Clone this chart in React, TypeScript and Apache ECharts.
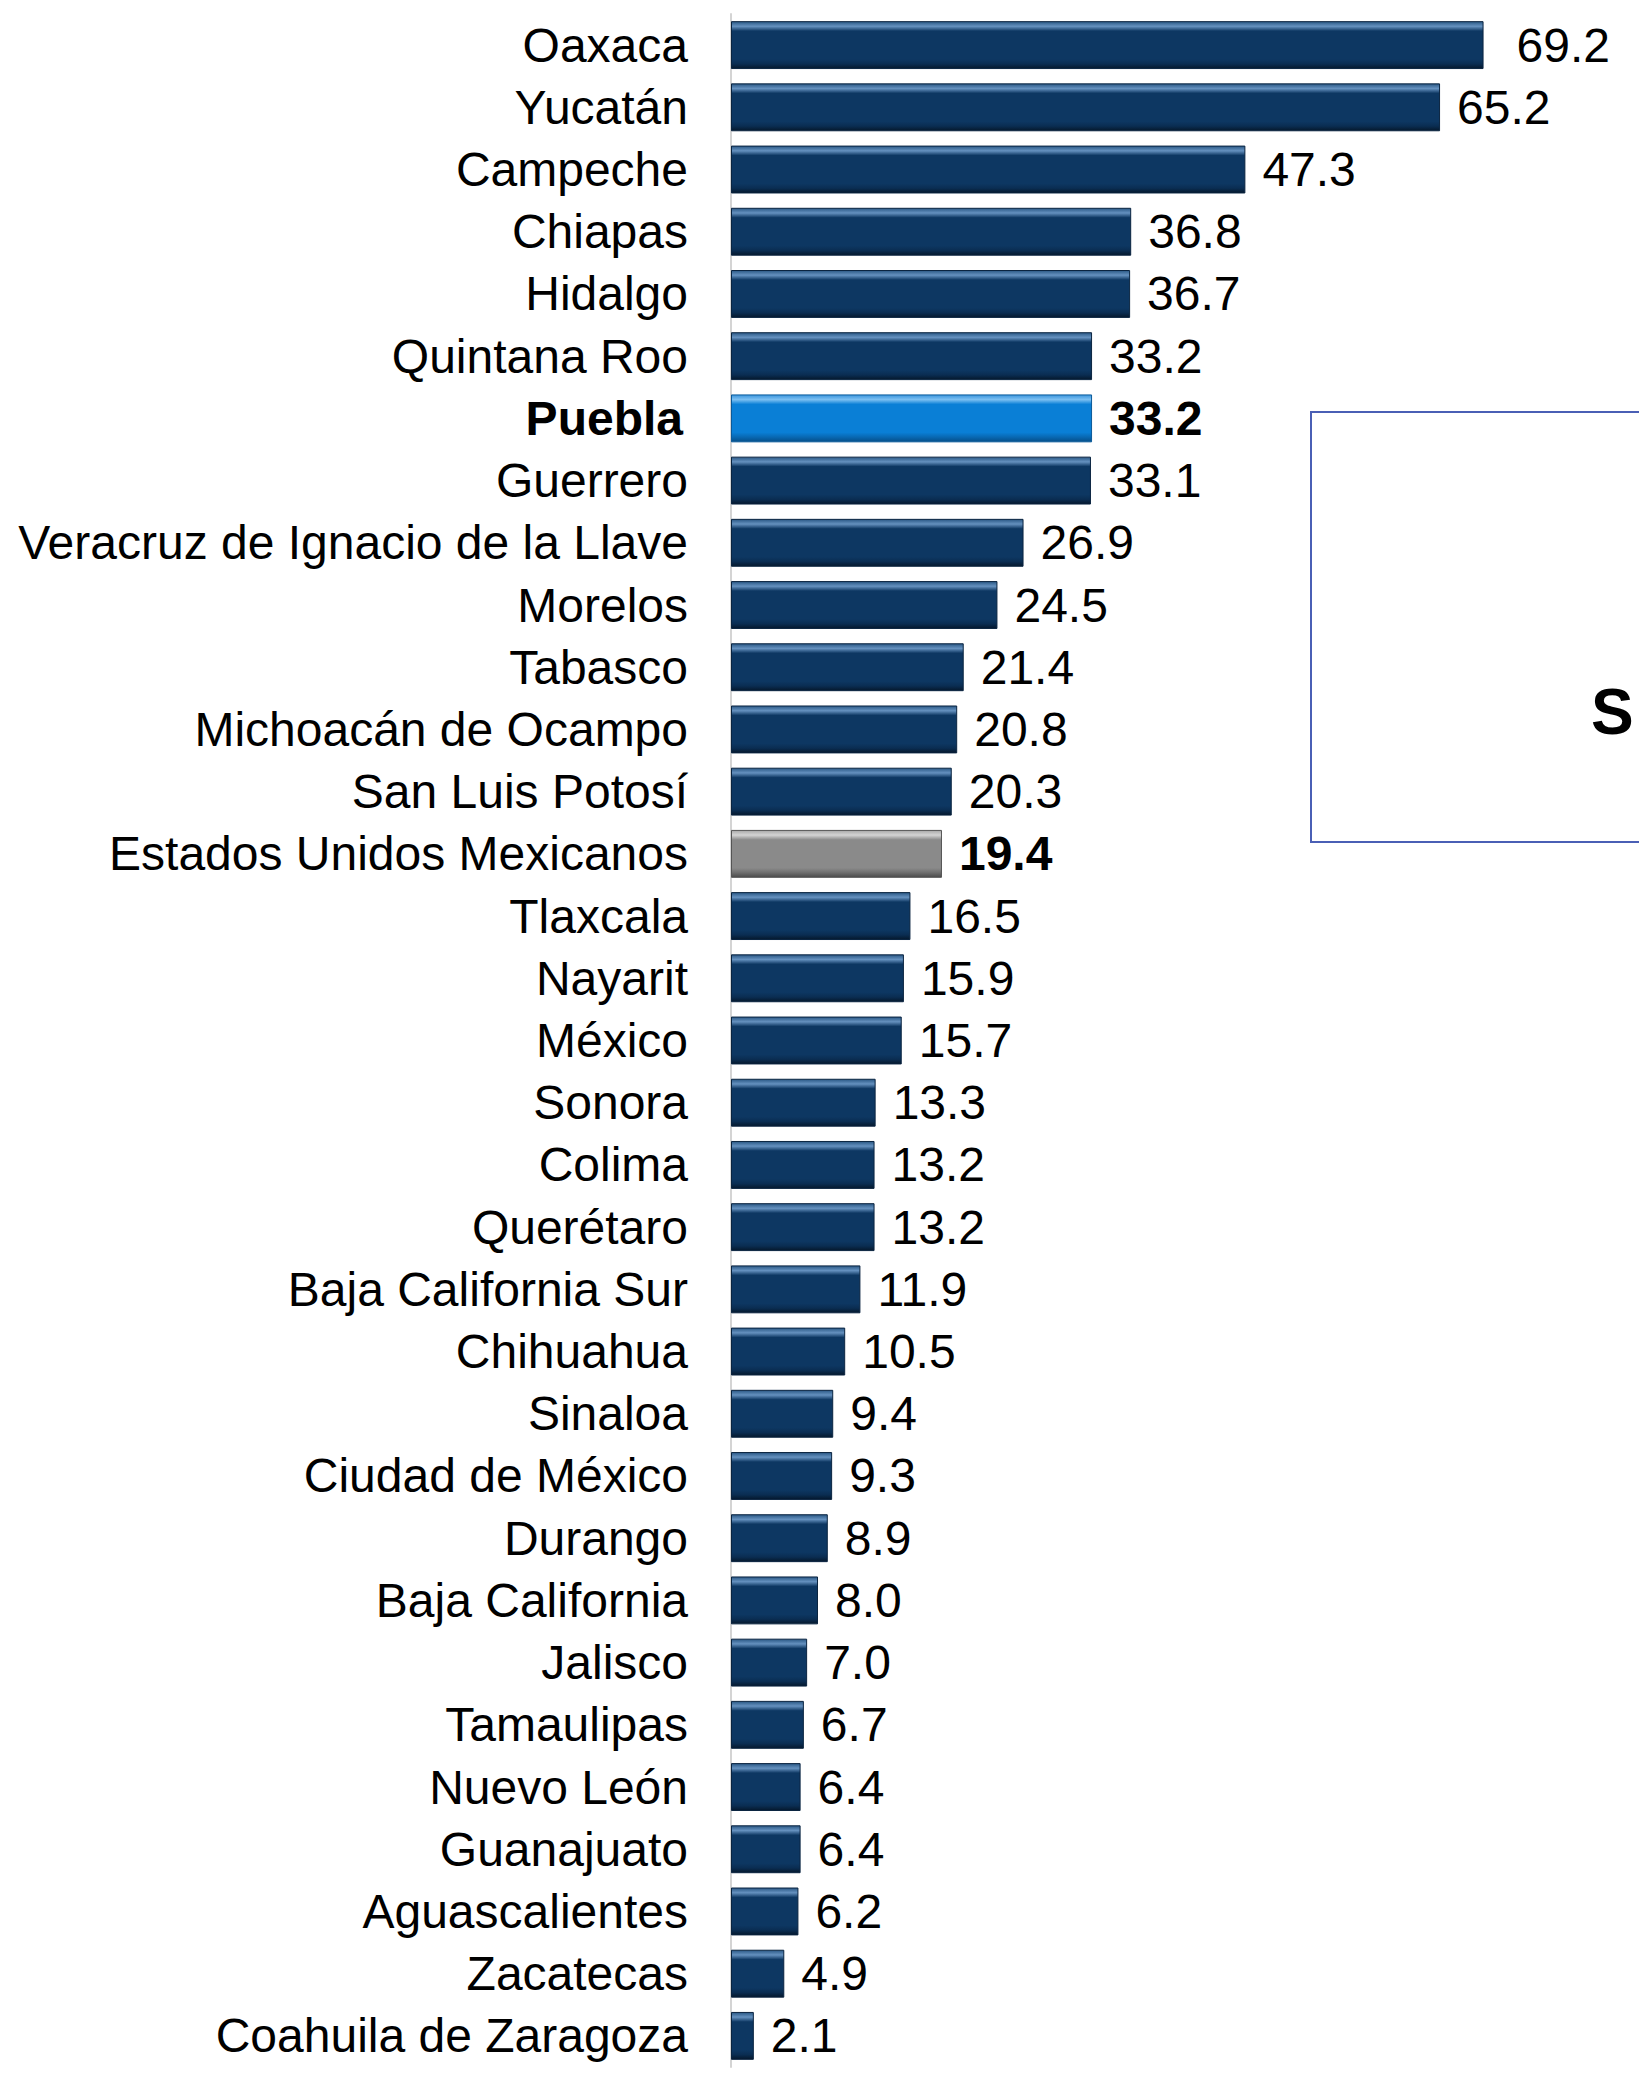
import React, { useEffect, useRef } from "react";
import * as echarts from "echarts";

const categories = [
  "Oaxaca", "Yucatán", "Campeche", "Chiapas", "Hidalgo", "Quintana Roo", "Puebla", "Guerrero",
  "Veracruz de Ignacio de la Llave", "Morelos", "Tabasco", "Michoacán de Ocampo", "San Luis Potosí",
  "Estados Unidos Mexicanos", "Tlaxcala", "Nayarit", "México", "Sonora", "Colima", "Querétaro",
  "Baja California Sur", "Chihuahua", "Sinaloa", "Ciudad de México", "Durango", "Baja California",
  "Jalisco", "Tamaulipas", "Nuevo León", "Guanajuato", "Aguascalientes", "Zacatecas", "Coahuila de Zaragoza",
];
const values = [
  69.2, 65.2, 47.3, 36.8, 36.7, 33.2, 33.2, 33.1, 26.9, 24.5, 21.4, 20.8, 20.3, 19.4, 16.5, 15.9, 15.7,
  13.3, 13.2, 13.2, 11.9, 10.5, 9.4, 9.3, 8.9, 8.0, 7.0, 6.7, 6.4, 6.4, 6.2, 4.9, 2.1,
];
const highlightState = "Puebla";
const nationalLabel = "Estados Unidos Mexicanos";
const boxText = "S";

const FONT = "'Liberation Sans', Arial, sans-serif";
const FS = 48;

function grad(top: string, hi: string, body: string, low: string, bottom: string) {
  return new echarts.graphic.LinearGradient(0, 0, 0, 1, [
    { offset: 0, color: top },
    { offset: 0.1, color: hi },
    { offset: 0.2, color: body },
    { offset: 0.8, color: body },
    { offset: 0.9, color: low },
    { offset: 1, color: bottom },
  ]);
}

export default function App() {
  const ref = useRef<HTMLDivElement>(null);
  useEffect(() => {
    if (!ref.current) return;
    const chart = echarts.init(ref.current, null, { renderer: "svg" });
    const navy = grad("#2a5885", "#6591bf", "#0d3762", "#0a2d52", "#05182c");
    const blue = grad("#3a95dd", "#7cc0f2", "#0a7fd6", "#0868b2", "#064f88");
    const gray = grad("#a8a8a8", "#d4d4d4", "#8a8a8a", "#6e6e6e", "#4a4a4a");
    const data = values.map((v, i) => {
      const c = categories[i];
      const isP = c === highlightState;
      const isN = c === nationalLabel;
      return {
        value: v,
        itemStyle: {
          color: isP ? blue : isN ? gray : navy,
          borderColor: isP ? "#0a5a9a" : isN ? "#555555" : "#0a2440",
          borderWidth: 1,
        },
        label: {
          fontWeight: isP || isN ? "bold" : "normal",
          distance: i === 0 ? 33 : 17,
        },
      };
    });
    chart.setOption({
      animation: false,
      backgroundColor: "#ffffff",
      grid: { left: 731, right: 38, top: 14, bottom: 8, containLabel: false },
      xAxis: {
        type: "value",
        min: 0,
        max: 80,
        show: false,
      },
      yAxis: {
        type: "category",
        data: categories,
        inverse: true,
        axisLine: { show: true, lineStyle: { color: "#d4d4d4", width: 2 } },
        axisTick: { show: false },
        axisLabel: {
          interval: 0,
          hideOverlap: false,
          margin: 43,
          fontSize: FS,
          fontFamily: FONT,
          color: "#000000",
          formatter: (v: string) => (v === highlightState ? "{b|" + v + "}" : v),
          rich: {
            b: {
              fontSize: FS,
              fontWeight: "bold",
              fontFamily: FONT,
              color: "#000000",
              padding: [0, 5, 0, 0],
            },
          },
        },
      },
      series: [
        {
          type: "bar",
          data,
          barCategoryGap: "23%",
          label: {
            show: true,
            position: "right",
            distance: 17,
            fontSize: FS,
            fontFamily: FONT,
            color: "#000000",
            formatter: (p: any) => Number(p.value).toFixed(1),
          },
          labelLayout: { hideOverlap: false },
        },
      ],
      graphic: [
        {
          type: "rect",
          shape: { x: 1311, y: 412, width: 400, height: 430 },
          style: { fill: "none", stroke: "#4a5fb5", lineWidth: 2 },
        },
        {
          type: "text",
          x: 1591,
          y: 712,
          style: {
            text: boxText,
            font: "bold 64px 'Liberation Sans', Arial, sans-serif",
            fill: "#000000",
            textVerticalAlign: "middle",
          },
        },
      ],
    });
    return () => chart.dispose();
  }, []);
  return (
    <div
      ref={ref}
      style={{ position: "absolute", left: 0, top: 0, width: 1639, height: 2075 }}
    />
  );
}
